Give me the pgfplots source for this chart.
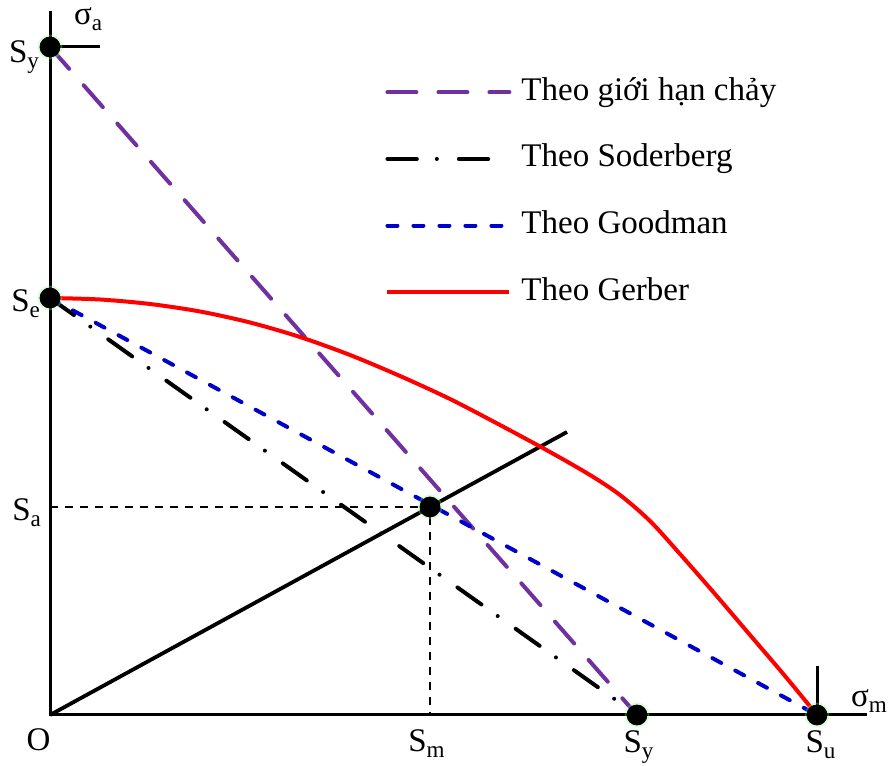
\documentclass[border=0pt]{standalone}
\usepackage{fontspec}
\setmainfont{Liberation Serif}
\usepackage{pgfplots}
\pgfplotsset{compat=1.18}
\definecolor{yieldpurple}{RGB}{112,48,160}
\definecolor{goodblue}{RGB}{0,0,204}
\definecolor{gerbred}{RGB}{255,0,0}
\pgfplotsset{
  long legend line/.style={legend image code/.code={\draw[##1] (0pt,0pt) -- (61pt,0pt);}},
  short legend line/.style={legend image code/.code={\draw[##1] (0pt,0pt) -- (51.5pt,0pt);}},
}
\tikzset{lbl/.style={inner sep=0pt, outer sep=0pt}}

\begin{document}
\begin{tikzpicture}[font=\fontsize{16.5}{19.8}\selectfont]
\begin{axis}[
  width=444pt, height=382.5pt, scale only axis,
  xmin=-50, xmax=838, ymin=-50, ymax=715,
  axis lines=none, clip=false,
  legend cell align=left,
  legend style={
    at={(0.4336,0.9007)}, anchor=north west,
    draw=none, fill=none, inner sep=0pt,
    row sep=17.3pt,
    nodes={inner sep=0pt, text height=12pt, text depth=4pt,
           font=\fontsize{16.5}{19.8}\selectfont},
    /tikz/every odd column/.append style={column sep=5pt},
  },
  long legend line,
]
% axes of the diagram
\addplot[black, line width=1.5pt, forget plot] coordinates {(0,704) (0,0) (817,0)};
\addplot[black, line width=1.5pt, forget plot] coordinates {(0,668) (50,668)};
\addplot[black, line width=1.5pt, forget plot] coordinates {(767,0) (767,49)};
% guide lines to S_a and S_m
\addplot[black, line width=0.9pt, dash pattern=on 4pt off 3.5pt, forget plot]
  coordinates {(0,208) (380,208) (380,0)};
% load line through the origin
\addplot[black, line width=1.9pt, forget plot] coordinates {(0,0) (517,283)};

% failure criteria
\addplot[yieldpurple, line width=2pt, line cap=round, dash pattern=on 14.5pt off 11pt]
  coordinates {(0,668) (587,0)};
\addlegendentry{Theo giới hạn chảy}
\addplot[black, line width=2pt, line cap=round, dash pattern=on 14.7pt off 10pt on 0pt off 11pt,
  short legend line]
  coordinates {(0,417) (587,0)};
\addlegendentry{Theo Soderberg}
\addplot[goodblue, line width=2pt, line cap=round, dash pattern=on 5pt off 8pt]
  coordinates {(0,417) (767,0)};
\addlegendentry{Theo Goodman}
\addplot[gerbred, line width=2pt, smooth, tension=0.5]
  coordinates {(0,417) (50,415.5) (100,411) (150,403.5) (200,392.5) (250,378) (300,360)
               (350,339) (400,316) (450,290) (500,263) (540,240) (570,220) (600,194)
               (630,161) (665,121) (700,80) (735,39) (767,0)};
\addlegendentry{Theo Gerber}

% characteristic points
\addplot[only marks, mark=*, mark size=6pt, color=green!50!white, opacity=0.25, forget plot]
  coordinates {(0,668) (0,417) (380,208) (587,0) (767,0)};
\addplot[only marks, mark=*, mark size=5pt, black, forget plot]
  coordinates {(0,668) (0,417) (380,208) (587,0) (767,0)};

% labels
\node[lbl, anchor=base west] at (axis cs:24,690) {σ\textsubscript{a}};
\node[lbl, anchor=base west] at (axis cs:801,8) {σ\textsubscript{m}};
\node[lbl, anchor=base east] at (axis cs:-10,652) {S\textsubscript{y}};
\node[lbl, anchor=base east] at (axis cs:-9,403) {S\textsubscript{e}};
\node[lbl, anchor=base east] at (axis cs:-8,194) {S\textsubscript{a}};
\node[lbl, anchor=base] at (axis cs:-11.5,-35) {O};
\node[lbl, anchor=base] at (axis cs:377,-37) {S\textsubscript{m}};
\node[lbl, anchor=base] at (axis cs:589,-38) {S\textsubscript{y}};
\node[lbl, anchor=base] at (axis cs:771,-38) {S\textsubscript{u}};
\end{axis}
\pgfresetboundingbox
\path (current axis.south west) rectangle (current axis.north east);
\end{tikzpicture}
\end{document}
